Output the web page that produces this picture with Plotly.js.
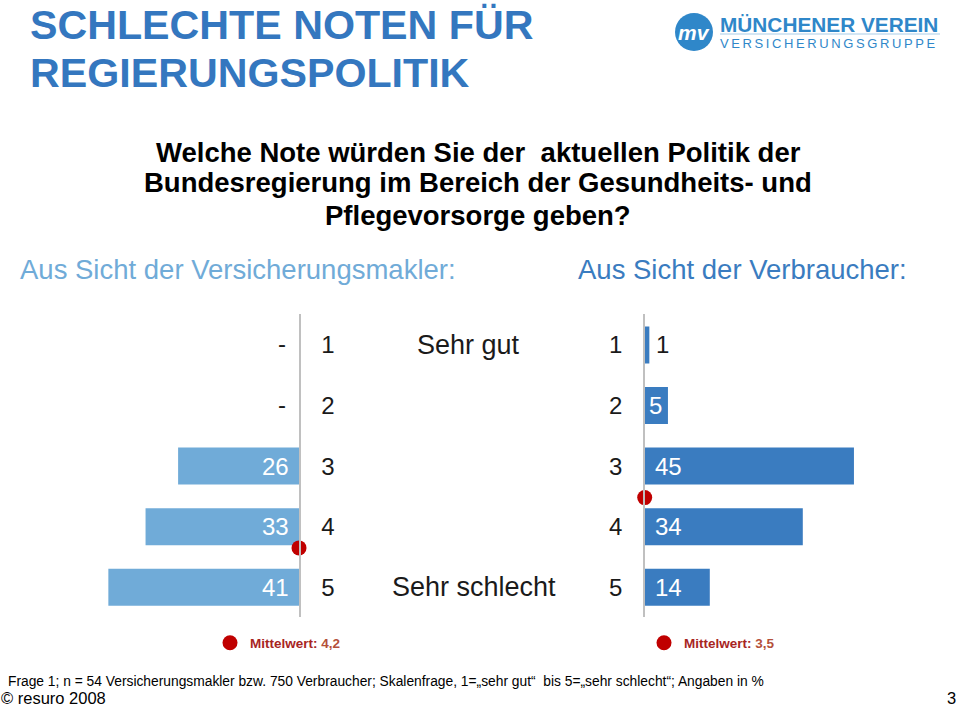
<!DOCTYPE html>
<html>
<head>
<meta charset="utf-8">
<script src="https://cdn.plot.ly/plotly-3.0.1.min.js"></script>
<style>html,body{margin:0;padding:0;background:#fff;}#chart{width:959px;height:708px;}</style>
</head>
<body>
<div id="chart"></div>
<script>
// ---- data ----
const categories = [1, 2, 3, 4, 5];
const scaleLabels = ["Sehr gut", "", "", "", "Sehr schlecht"];
const maklerValues = [0, 0, 26, 33, 41];          // 0 shown as "-"
const verbraucherValues = [1, 5, 45, 34, 14];
const meanValues = ["4,2", "3,5"];
const meanMarkerPos = [4.35, 3.52];              // where the red dots sit on the scale
const groupTitles = ["Aus Sicht der Versicherungsmakler:", "Aus Sicht der Verbraucher:"];
const mainTitle = ["SCHLECHTE NOTEN FÜR", "REGIERUNGSPOLITIK"];
const question = ["Welche Note würden Sie der  aktuellen Politik der",
                  "Bundesregierung im Bereich der Gesundheits- und",
                  "Pflegevorsorge geben?"];
const footnote = "Frage 1; n = 54 Versicherungsmakler bzw. 750 Verbraucher; Skalenfrage, 1=„sehr gut“  bis 5=„sehr schlecht“; Angaben in %";
const copyright = "© resuro 2008";
const pageNo = "3";

// ---- layout helpers ----
const W = 959, H = 708;
const px = p => p / W;
const py = p => 1 - p / H;
const FONT = "Liberation Sans, Arial, sans-serif";
const leftColor = "#70abd8";
const rightColor = "#3a7cc0";
const titleBlue = "#3477bf";
const dotRed = "#c00000";
const pxPerUnit = 4.65;
const leftZero = 299, leftStart = 100;
const rightZero = 644.7, rightEnd = 900;
const scaleLabelCenterPx = {0: 468, 4: 474};

const traces = [
  {type: "bar", orientation: "h", x: maklerValues, y: categories, xaxis: "x", yaxis: "y",
   width: 0.61, marker: {color: leftColor}, showlegend: false, hoverinfo: "skip"},
  {type: "bar", orientation: "h", x: verbraucherValues, y: categories, xaxis: "x2", yaxis: "y2",
   width: 0.61, marker: {color: rightColor}, showlegend: false, hoverinfo: "skip"},
  {type: "scatter", mode: "markers", x: [0], y: [meanMarkerPos[0]], xaxis: "x", yaxis: "y",
   marker: {color: dotRed, size: 15}, cliponaxis: false, legend: "legend",
   name: "<b>Mittelwert: <span style='color:#b4503a'>" + meanValues[0] + "</span></b>", hoverinfo: "skip"},
  {type: "scatter", mode: "markers", x: [0], y: [meanMarkerPos[1]], xaxis: "x2", yaxis: "y2",
   marker: {color: dotRed, size: 15}, cliponaxis: false, legend: "legend2",
   name: "<b>Mittelwert: <span style='color:#b4503a'>" + meanValues[1] + "</span></b>", hoverinfo: "skip"}
];

const ann = [];
// bar value labels
maklerValues.forEach((v, i) => {
  if (v === 0) {
    ann.push({xref: "x", yref: "y", x: 0, y: categories[i], text: "-", showarrow: false,
      xanchor: "right", yanchor: "middle", xshift: -11, yshift: 1,
      font: {family: FONT, size: 24, color: "#1a1a1a"}});
  } else {
    ann.push({xref: "x", yref: "y", x: 0, y: categories[i], text: String(v), showarrow: false,
      xanchor: "right", yanchor: "middle", xshift: -8,
      font: {family: FONT, size: 24, color: "#ffffff"}});
  }
});
verbraucherValues.forEach((v, i) => {
  const w = v * pxPerUnit;
  if (w < 10) {
    ann.push({xref: "x2", yref: "y2", x: v, y: categories[i], text: String(v), showarrow: false,
      xanchor: "left", yanchor: "middle", xshift: 5,
      font: {family: FONT, size: 24, color: "#1a1a1a"}});
  } else {
    ann.push({xref: "x2", yref: "y2", x: 0, y: categories[i], text: String(v), showarrow: false,
      xanchor: "left", yanchor: "middle", xshift: w < 30 ? 2 : 8,
      font: {family: FONT, size: 24, color: "#ffffff"}});
  }
});
// scale end labels
scaleLabels.forEach((t, i) => {
  if (t) ann.push({xref: "paper", yref: "y", x: px(scaleLabelCenterPx[i]), y: categories[i], text: t, showarrow: false,
    xanchor: "center", yanchor: "middle", font: {family: FONT, size: 27, color: "#1a1a1a"}});
});
// main title
[25, 73].forEach((yy, i) => ann.push({xref: "paper", yref: "paper", x: px(28), y: py(yy),
  text: "<b>" + mainTitle[i] + "</b>", showarrow: false, xanchor: "left", yanchor: "middle",
  font: {family: FONT, size: 41.2, color: titleBlue}}));
// question
[152, 183, 215].forEach((yy, i) => ann.push({xref: "paper", yref: "paper", x: px(478), y: py(yy),
  text: "<b>" + question[i] + "</b>", showarrow: false, xanchor: "center", yanchor: "middle",
  font: {family: FONT, size: 27.5, color: "#000000"}}));
// group titles
ann.push({xref: "paper", yref: "paper", x: px(18), y: py(269), text: groupTitles[0], showarrow: false,
  xanchor: "left", yanchor: "middle", font: {family: FONT, size: 27.5, color: leftColor}});
ann.push({xref: "paper", yref: "paper", x: px(576), y: py(269), text: groupTitles[1], showarrow: false,
  xanchor: "left", yanchor: "middle", font: {family: FONT, size: 27.5, color: rightColor}});
// footnote
ann.push({xref: "paper", yref: "paper", x: px(6), y: py(681), text: footnote, showarrow: false,
  xanchor: "left", yanchor: "middle", font: {family: FONT, size: 13.8, color: "#000"}});
ann.push({xref: "paper", yref: "paper", x: 0, y: 0, text: copyright, showarrow: false, borderpad: 0,
  xanchor: "left", yanchor: "bottom", font: {family: FONT, size: 16.5, color: "#000"}});
ann.push({xref: "paper", yref: "paper", x: px(957), y: 0, text: pageNo, showarrow: false, borderpad: 0,
  xanchor: "right", yanchor: "bottom", font: {family: FONT, size: 16.5, color: "#000"}});
// logo texts
ann.push({xref: "paper", yref: "paper", x: px(694), y: py(32), text: "<b><i>mv</i></b>", showarrow: false,
  xanchor: "center", yanchor: "middle", font: {family: FONT, size: 21, color: "#fff"}});
ann.push({xref: "paper", yref: "paper", x: px(718), y: py(24), text: "<b>MÜNCHENER VEREIN</b>", showarrow: false,
  xanchor: "left", yanchor: "middle", font: {family: FONT, size: 20.8, color: "#2f87c9"}});
ann.push({xref: "paper", yref: "paper", x: px(718), y: py(43), text: "VERSICHERUNGSGRUPPE".split("").join("\u2009"), showarrow: false,
  xanchor: "left", yanchor: "middle", font: {family: FONT, size: 13, color: "#2f87c9"}});

const shapes = [
  {type: "circle", xref: "paper", yref: "paper", x0: px(675), x1: px(713), y0: py(51), y1: py(13),
   fillcolor: "#2f87c9", line: {width: 0}},
  {type: "line", xref: "paper", yref: "paper", x0: px(720), x1: px(940), y0: py(34), y1: py(34),
   line: {color: "#a9cde8", width: 1}}
];

const yCommon = {range: [5.49, 0.49], domain: [py(617), py(314)], showgrid: false, zeroline: false,
  showline: true, linecolor: "#c0c0c0", linewidth: 1.5, ticks: "", tickvals: categories,
  ticktext: categories.map(String), tickfont: {family: FONT, size: 24, color: "#1a1a1a"},
  ticklabelstandoff: 16, fixedrange: true};

const layout = {
  width: W, height: H, margin: {l: 0, r: 0, t: 0, b: 0},
  paper_bgcolor: "#fff", plot_bgcolor: "rgba(0,0,0,0)",
  showlegend: true,
  xaxis: {domain: [px(leftStart), px(leftZero)], range: [(leftZero - leftStart) / pxPerUnit, 0], visible: false},
  xaxis2: {domain: [px(rightZero), px(rightEnd)], range: [0, (rightEnd - rightZero) / pxPerUnit], visible: false},
  yaxis: Object.assign({}, yCommon, {anchor: "x", side: "right"}),
  yaxis2: Object.assign({}, yCommon, {anchor: "x2", side: "left"}),
  legend: {x: px(210), y: py(643), xanchor: "left", yanchor: "middle", bgcolor: "rgba(0,0,0,0)",
    font: {family: FONT, size: 13.5, color: "#a8251f"}, itemclick: false},
  legend2: {x: px(644), y: py(643), xanchor: "left", yanchor: "middle", bgcolor: "rgba(0,0,0,0)",
    font: {family: FONT, size: 13.5, color: "#a8251f"}, itemclick: false},
  annotations: ann, shapes: shapes
};

Plotly.newPlot("chart", traces, layout, {displayModeBar: false, staticPlot: true});
</script>
</body>
</html>
